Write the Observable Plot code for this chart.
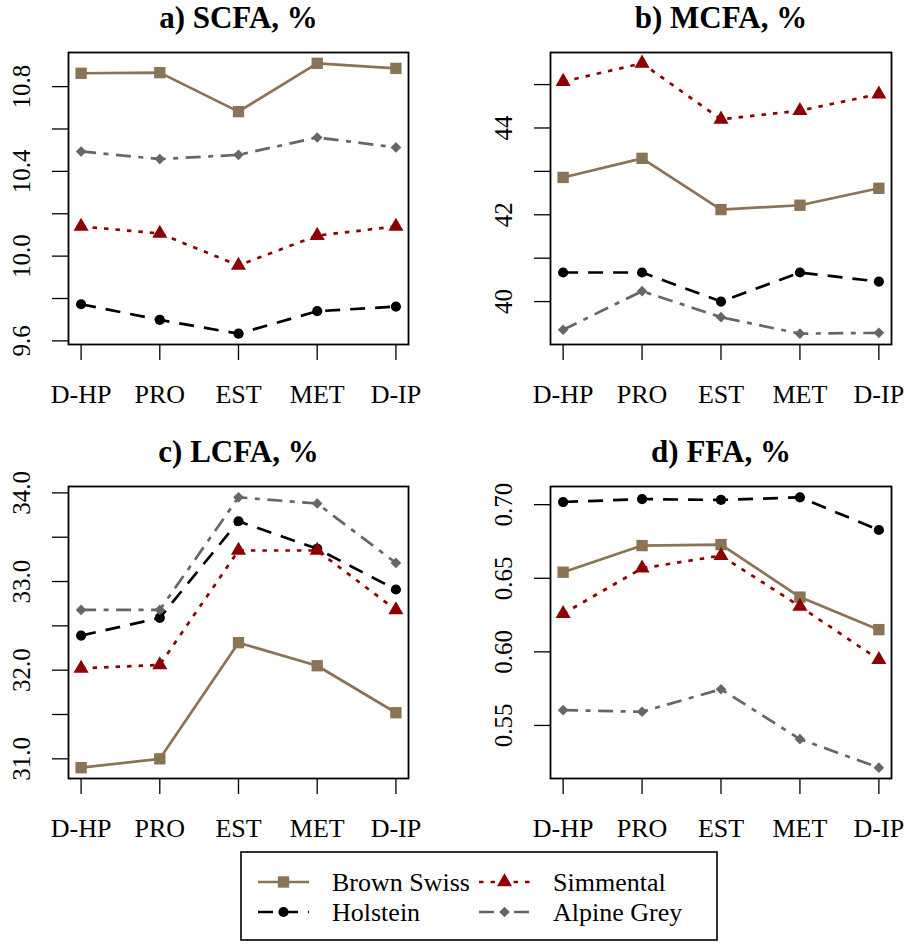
<!DOCTYPE html>
<html>
<head>
<meta charset="utf-8">
<script src="https://cdn.jsdelivr.net/npm/d3@7"></script>
<script src="https://cdn.jsdelivr.net/npm/@observablehq/plot@0.6"></script>
<style>
  html, body { margin: 0; padding: 0; background: #fff; }
  #page { position: relative; width: 905px; height: 944px; overflow: hidden; background: #fff; }
  #page svg { position: absolute; overflow: visible; }
  #page svg, #page svg text { font-family: "Liberation Serif", "Tinos", "DejaVu Serif", "Noto Serif", serif !important; }
</style>
</head>
<body>
<div id="page"></div>
<script>
// Lactation stages on the x axis
const stages = ["D-HP", "PRO", "EST", "MET", "D-IP"];
const breeds = ["Brown Swiss", "Holstein", "Simmental", "Alpine Grey"];

// a) short-chain fatty acids, %
const scfaBrownSwiss = [10.863, 10.866, 10.682, 10.91, 10.886];
const scfaHolstein   = [9.773, 9.699, 9.634, 9.74, 9.762];
const scfaSimmental  = [10.14, 10.107, 9.956, 10.097, 10.14];
const scfaAlpineGrey = [10.494, 10.458, 10.478, 10.56, 10.513];
const scfaTicks      = [9.6, 9.8, 10.0, 10.2, 10.4, 10.6, 10.8];
const scfaTickLabels = ["9.6", "", "10.0", "", "10.4", "", "10.8"];

// b) medium-chain fatty acids, %
const mcfaBrownSwiss = [42.86, 43.30, 42.12, 42.22, 42.61];
const mcfaHolstein   = [40.67, 40.67, 40.0, 40.67, 40.46];
const mcfaSimmental  = [45.07, 45.49, 44.2, 44.4, 44.78];
const mcfaAlpineGrey = [39.35, 40.24, 39.64, 39.26, 39.28];
const mcfaTicks      = [40, 41, 42, 43, 44, 45];
const mcfaTickLabels = ["40", "", "42", "", "44", ""];

// c) long-chain fatty acids, %
const lcfaBrownSwiss = [30.90, 31.0, 32.31, 32.05, 31.52];
const lcfaHolstein   = [32.39, 32.59, 33.68, 33.37, 32.91];
const lcfaSimmental  = [32.02, 32.06, 33.35, 33.35, 32.68];
const lcfaAlpineGrey = [32.68, 32.68, 33.95, 33.88, 33.21];
const lcfaTicks      = [31.0, 31.5, 32.0, 32.5, 33.0, 33.5, 34.0];
const lcfaTickLabels = ["31.0", "", "32.0", "", "33.0", "", "34.0"];

// d) free fatty acids, %
const ffaBrownSwiss = [0.6541, 0.6722, 0.6729, 0.6372, 0.6151];
const ffaHolstein   = [0.7018, 0.7038, 0.7032, 0.705, 0.6828];
const ffaSimmental  = [0.6259, 0.6568, 0.6654, 0.6309, 0.5947];
const ffaAlpineGrey = [0.5604, 0.5593, 0.5746, 0.5407, 0.5213];
const ffaTicks      = [0.55, 0.60, 0.65, 0.70];
const ffaTickLabels = ["0.55", "0.60", "0.65", "0.70"];

// Line and marker style per breed
const breedStyle = {
  "Brown Swiss": {color: "#8b7355", dash: null, symbol: "square", r: 6.4},
  "Holstein":    {color: "#000000", dash: "15,10", symbol: "circle", r: 5.1},
  "Simmental":   {color: "#8b0000", dash: "4.5,7", symbol: "triangle", r: 5.6},
  "Alpine Grey": {color: "#666666", dash: "15,7.5,5,7.5", symbol: "diamond2", r: 4.8}
};

const serif = "'Liberation Serif', Tinos, 'DejaVu Serif', 'Noto Serif', serif";

const panels = [
  {title: "a) SCFA, %", series: [scfaBrownSwiss, scfaHolstein, scfaSimmental, scfaAlpineGrey],
   ticks: scfaTicks, labels: scfaTickLabels, left: 0, top: 0, width: 452, marginTop: 52, marginRight: 44},
  {title: "b) MCFA, %", series: [mcfaBrownSwiss, mcfaHolstein, mcfaSimmental, mcfaAlpineGrey],
   ticks: mcfaTicks, labels: mcfaTickLabels, left: 482, top: 0, width: 423, marginTop: 52, marginRight: 14},
  {title: "c) LCFA, %", series: [lcfaBrownSwiss, lcfaHolstein, lcfaSimmental, lcfaAlpineGrey],
   ticks: lcfaTicks, labels: lcfaTickLabels, left: 0, top: 420, width: 452, marginTop: 66, marginRight: 44},
  {title: "d) FFA, %", series: [ffaBrownSwiss, ffaHolstein, ffaSimmental, ffaAlpineGrey],
   ticks: ffaTicks, labels: ffaTickLabels, left: 482, top: 420, width: 423, marginTop: 66, marginRight: 14}
];

const page = document.getElementById("page");
const frameHeight = 292;
const marginBottom = 72;

for (const p of panels) {
  const rows = breeds.flatMap((breed, b) =>
    stages.map((stage, i) => ({breed, stage, value: p.series[b][i]})));
  // base-graphics style range: data extent widened by 4% on each side
  const [lo, hi] = d3.extent(rows, d => d.value);
  const pad = (hi - lo) * 0.04;

  const marks = [
    Plot.frame({stroke: "black", strokeWidth: 1.8}),
    Plot.axisX({tickSize: 16, tickPadding: 24, fontSize: 26, strokeWidth: 1.3, label: null}),
    Plot.axisY({
      ticks: p.ticks, tickSize: 16, tickPadding: 23, tickRotate: -90, fontSize: 25,
      strokeWidth: 1.3, label: null,
      tickFormat: d => p.labels[p.ticks.indexOf(d)]
    })
  ];
  for (const breed of breeds) {
    const s = breedStyle[breed];
    const data = rows.filter(d => d.breed === breed);
    marks.push(Plot.line(data, {
      x: "stage", y: "value", stroke: s.color, strokeWidth: 2.7,
      strokeDasharray: s.dash, strokeLinecap: "butt", strokeLinejoin: "round"
    }));
    marks.push(Plot.dot(data, {x: "stage", y: "value", fill: s.color, symbol: s.symbol, r: s.r}));
  }
  marks.push(Plot.text([p.title], {
    frameAnchor: "top", dy: -25, lineAnchor: "bottom",
    fontSize: 31, fontWeight: "bold", fill: "black"
  }));

  const chart = Plot.plot({
    width: p.width,
    height: p.marginTop + frameHeight + marginBottom,
    marginLeft: 68, marginRight: p.marginRight, marginTop: p.marginTop, marginBottom,
    style: {fontFamily: serif, color: "black", background: "white", overflow: "visible"},
    x: {type: "point", domain: stages, padding: 0.16, round: false},
    y: {domain: [lo - pad, hi + pad]},
    marks
  });
  chart.setAttribute("font-family", serif);
  chart.style.left = p.left + "px";
  chart.style.top = p.top + "px";
  page.appendChild(chart);
}

// Legend: two columns, column-major (Brown Swiss, Holstein | Simmental, Alpine Grey)
const legendTop = 846;
const legend = d3.create("svg")
  .attr("width", 905).attr("height", 98)
  .attr("font-family", serif)
  .style("left", "0px").style("top", legendTop + "px");
legend.append("rect")
  .attr("x", 241).attr("y", 852 - legendTop).attr("width", 476).attr("height", 88)
  .attr("fill", "white").attr("stroke", "black").attr("stroke-width", 1.6);

const colX = [258, 479];
const rowY = [882, 912];
breeds.forEach((breed, k) => {
  const s = breedStyle[breed];
  const cx = colX[Math.floor(k / 2)];
  const cy = rowY[k % 2] - legendTop;
  legend.append("line")
    .attr("x1", cx).attr("x2", cx + 51).attr("y1", cy).attr("y2", cy)
    .attr("stroke", s.color).attr("stroke-width", 2.7)
    .attr("stroke-dasharray", s.dash).attr("stroke-linecap", "butt");
  const sym = {square: d3.symbolSquare, circle: d3.symbolCircle, triangle: d3.symbolTriangle, diamond2: d3.symbolDiamond2}[s.symbol];
  legend.append("path")
    .attr("transform", `translate(${cx + 25.5},${cy})`)
    .attr("d", d3.symbol(sym, Math.PI * s.r * s.r)())
    .attr("fill", s.color);
  legend.append("text")
    .attr("x", cx + 74).attr("y", cy + 9)
    .attr("font-size", 26).attr("fill", "black")
    .text(breed);
});
page.appendChild(legend.node());
</script>
</body>
</html>
